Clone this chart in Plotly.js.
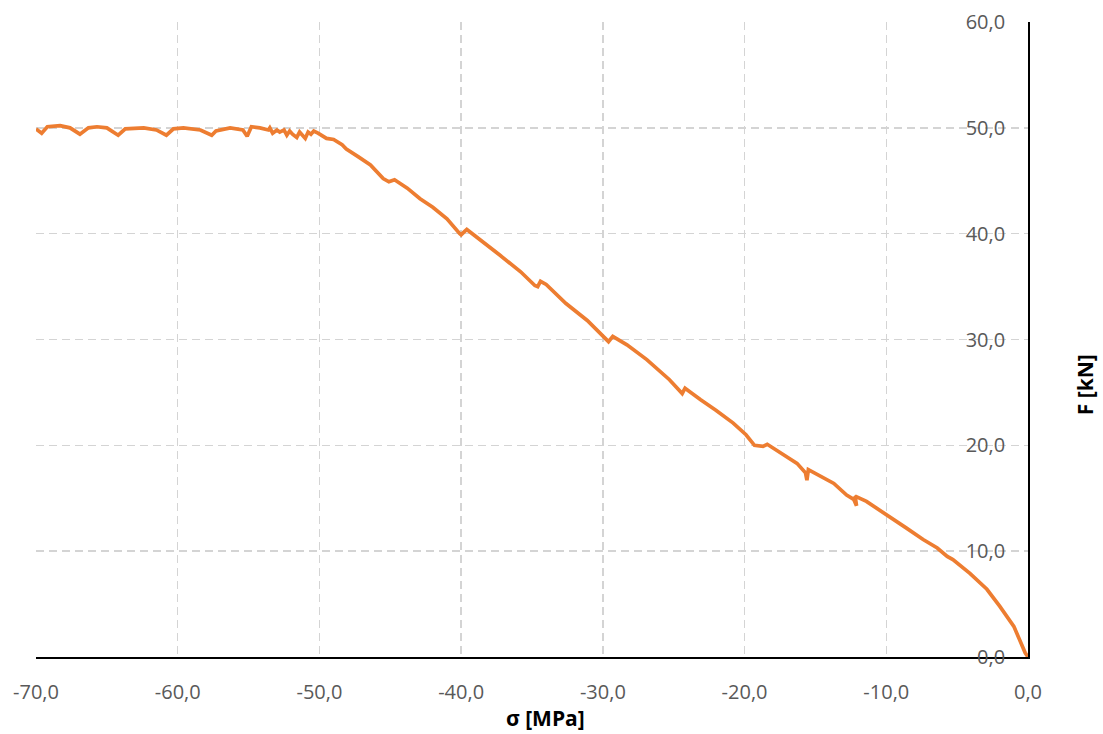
<!DOCTYPE html>
<html>
<head>
<meta charset="utf-8">
<script src="https://cdn.plot.ly/plotly-3.0.1.min.js"></script>
<style>
html,body{margin:0;padding:0;background:#fff;}
#chart{width:1103px;height:734px;}
</style>
</head>
<body>
<div id="chart"></div>
<script>
// Stress sigma [MPa]
const sigma = [
  -70.0, -69.6, -69.2, -68.3, -67.6, -66.9, -66.3, -65.7, -65.0, -64.2,
  -63.7, -62.4, -61.5, -60.8, -60.3, -59.6, -58.4, -57.6, -57.3, -56.3,
  -55.4, -55.1, -54.8, -54.2, -53.6, -53.5, -53.3, -53.0, -52.8, -52.5,
  -52.3, -52.1, -51.9, -51.6, -51.4, -51.2, -51.0, -50.8, -50.6, -50.4,
  -50.1, -49.5, -49.0, -48.4, -48.1, -47.3, -46.4, -45.5, -45.1, -44.9,
  -44.7, -43.8, -42.9, -42.0, -41.0, -40.1, -40.0, -39.6, -38.9, -38.1,
  -37.3, -35.8, -34.8, -34.6, -34.4, -34.0, -32.6, -31.1, -29.8, -29.6,
  -29.3, -28.3, -26.9, -25.3, -24.4, -24.2, -23.1, -22.0, -20.8, -19.9,
  -19.3, -18.7, -18.4, -17.3, -16.3, -15.7, -15.6, -15.5, -14.2, -13.7,
  -12.8, -12.3, -12.1, -12.2, -11.4, -10.0, -8.6, -7.4, -6.4, -5.7,
  -5.3, -4.1, -2.9, -2.0, -1.0, -0.2, 0.0
];
// Force F [kN]
const force = [
  49.9, 49.5, 50.1, 50.2, 50.0, 49.4, 50.0, 50.1, 50.0, 49.3,
  49.9, 50.0, 49.8, 49.3, 49.9, 50.0, 49.8, 49.3, 49.7, 50.0,
  49.8, 49.2, 50.1, 50.0, 49.8, 50.0, 49.5, 49.8, 49.6, 49.8,
  49.3, 49.7, 49.4, 49.1, 49.6, 49.3, 49.0, 49.6, 49.4, 49.7,
  49.5, 49.0, 48.9, 48.4, 48.0, 47.3, 46.5, 45.2, 44.9, 45.0,
  45.1, 44.3, 43.3, 42.5, 41.4, 40.0, 39.9, 40.4, 39.7, 38.8,
  38.0, 36.4, 35.1, 35.0, 35.5, 35.2, 33.4, 31.8, 30.1, 29.8,
  30.3, 29.5, 28.1, 26.2, 24.9, 25.4, 24.3, 23.3, 22.1, 21.0,
  20.0, 19.9, 20.1, 19.2, 18.3, 17.4, 16.7, 17.7, 16.8, 16.4,
  15.3, 14.9, 14.3, 15.2, 14.7, 13.4, 12.2, 11.1, 10.3, 9.5,
  9.2, 7.9, 6.4, 4.8, 2.9, 0.4, 0.0
];
const xTickVals = [-70, -60, -50, -40, -30, -20, -10, 0];
const xTickText = ["-70,0", "-60,0", "-50,0", "-40,0", "-30,0", "-20,0", "-10,0", "0,0"];
const yTickVals = [0, 10, 20, 30, 40, 50, 60];
const yTickText = ["0,0", "10,0", "20,0", "30,0", "40,0", "50,0", "60,0"];
const xTitle = "σ [MPa]";
const yTitle = "F [kN]";

const tickFont = {family: "Open Sans, sans-serif", size: 20, color: "#595959"};
const titleFont = {family: "Open Sans, sans-serif", size: 21, color: "#000000", weight: "bold"};

const trace = {
  x: sigma, y: force, type: "scatter", mode: "lines",
  line: {color: "#ED7D31", width: 3.7},
  hoverinfo: "skip", showlegend: false
};
// empty helper trace so the label axis (y2) is drawn
const labelTrace = {
  x: [], y: [], type: "scatter", mode: "lines", yaxis: "y2",
  hoverinfo: "skip", showlegend: false
};

const layout = {
  width: 1103, height: 734,
  margin: {l: 36, r: 75, t: 22, b: 77, pad: 0},
  paper_bgcolor: "#ffffff", plot_bgcolor: "#ffffff",
  showlegend: false,
  xaxis: {
    range: [-70, 0], tickmode: "array", tickvals: xTickVals, ticktext: xTickText,
    showgrid: true, gridcolor: "#D4D4D4", gridwidth: 1.5, griddash: "8px,5px",
    zeroline: false, showline: true, linecolor: "#000000", linewidth: 2,
    ticks: "", ticklabelstandoff: 16, tickfont: tickFont, fixedrange: true
  },
  yaxis: {
    range: [0, 60], side: "right", tickmode: "array", tickvals: yTickVals, ticktext: yTickText,
    showticklabels: false, ticks: "",
    showgrid: true, gridcolor: "#D4D4D4", gridwidth: 1.5, griddash: "8px,5px",
    zeroline: false, showline: true, linecolor: "#000000", linewidth: 2,
    fixedrange: true
  },
  yaxis2: {
    range: [0, 60], overlaying: "y", anchor: "free", position: 0.98, side: "right",
    tickmode: "array", tickvals: yTickVals, ticktext: yTickText,
    ticklabelposition: "inside", ticklabeloverflow: "allow", ticks: "",
    showgrid: false, zeroline: false, showline: false,
    tickfont: tickFont, fixedrange: true
  },
  annotations: [
    {text: xTitle, xref: "paper", yref: "paper", x: 0.514, y: -0.096,
     xanchor: "center", yanchor: "middle", showarrow: false, font: titleFont},
    {text: yTitle, xref: "paper", yref: "paper", x: 1.0575, y: 0.428,
     xanchor: "center", yanchor: "middle", showarrow: false, textangle: -90, font: titleFont}
  ]
};

Plotly.newPlot("chart", [trace, labelTrace], layout, {displayModeBar: false, staticPlot: true});
</script>
</body>
</html>
